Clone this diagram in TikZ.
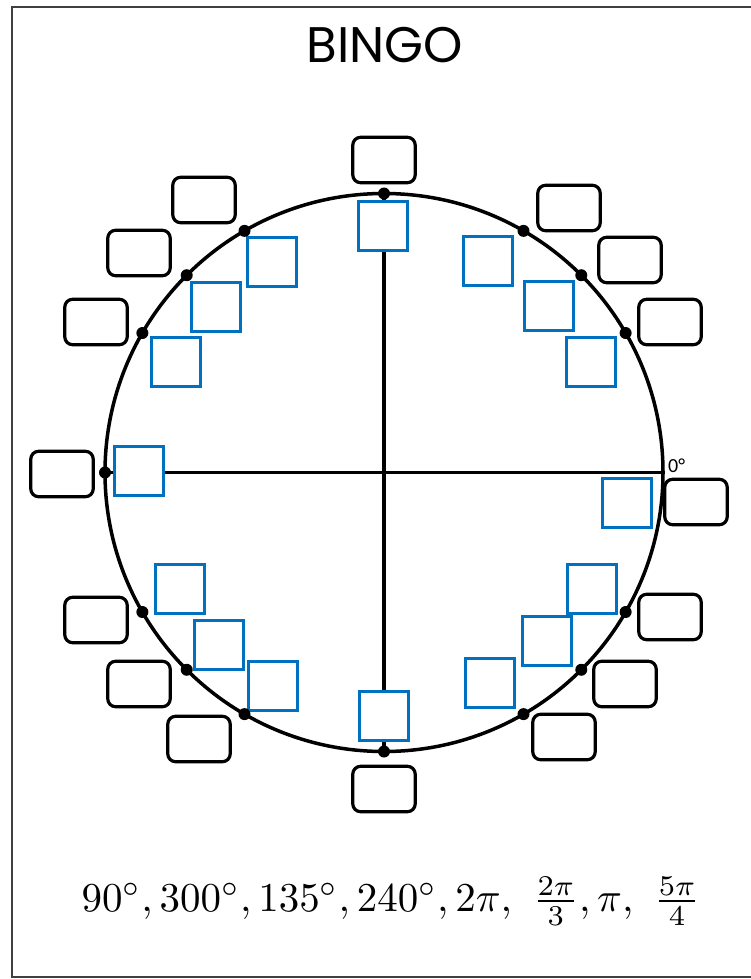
\documentclass[tikz,border=0pt]{standalone}
\usepackage{fontspec}
\usepackage{amsmath}
\usepackage{tikz}
\setsansfont{Carlito}
\newfontfamily\bingofont{Poppins}
\definecolor{guessblue}{RGB}{0,112,192}

\tikzset{
	answer/.style={draw, line width=3.2pt, rounded corners=8pt, minimum width=62.5pt, minimum height=45.5pt, inner sep=0pt},
	guess/.style={draw=guessblue, line width=3.2pt, fill=white, minimum size=48.5pt, inner sep=0pt}
}

\begin{document}
\begin{tikzpicture}[x=1pt,y=-1pt]
	
	\useasboundingbox (0,0) rectangle (751,979);
	\draw[line width=2pt, black!75] (751,7) -| (12,977) -- (751,977);
	
	\node[font=\bingofont\fontsize{50}{60}\selectfont] (title) at (385,45) {BINGO};
	
	\coordinate (c) at (384,472.5);
	\foreach \a in {0,30,45,60,90,120,135,150,180,210,225,240,270,300,315,330}
		\path (c) ++(\a:279pt) coordinate (p\a);
	
	\draw[line width=3.5pt] (c) circle[radius=279pt];
	\draw[line width=3.5pt] (p180) -- (p0);
	\draw[line width=3.5pt] (p90) -- (p270);
	
	\foreach \a/\x/\y in {0/696/502, 30/670/322, 45/630/260, 60/569/208, 90/384/160, 120/204/200, 135/139/253, 150/96/322, 180/62/474, 210/96/620, 225/139/684, 240/199/739, 270/384/789, 300/564/737, 315/625/684, 330/670/617}
		\node[answer] (ans\a) at (\x,\y) {};
	
	\foreach \a/\x/\y in {0/627/503, 30/591/362, 45/549/306, 60/488/261, 90/383/226, 120/272/262, 135/216/307, 150/176/362, 180/139/471, 210/180/589, 225/219/645, 240/273/686, 270/384/716, 300/490/683, 315/547/641, 330/592/589}
		\node[guess] (blu\a) at (\x,\y) {};
	
	\foreach \a in {30,45,60,90,120,135,150,180,210,225,240,270,300,315,330}
		\fill (p\a) circle (6pt);
	
	\node[font=\sffamily\fontsize{20}{24}\selectfont, anchor=south west, inner sep=0pt] (zero) at (668,473) {0°};
	
	\node[scale=4.1] (list) at (391,901) {$90^\circ, 300^\circ, 135^\circ, 240^\circ, 2\pi,\ \frac{2\pi}{3}, \pi,\ \frac{5\pi}{4}$};
	
\end{tikzpicture}
\end{document}
